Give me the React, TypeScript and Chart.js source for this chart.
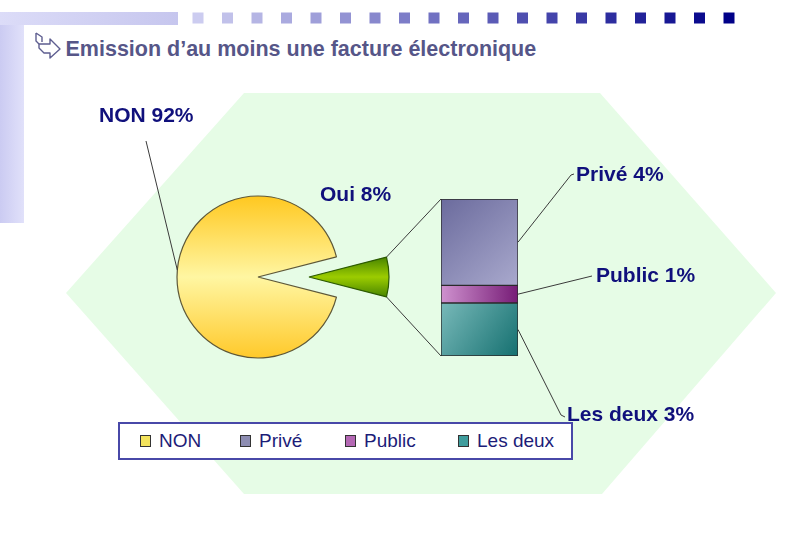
import React, { useEffect, useRef } from "react";
import { Chart, registerables } from "chart.js";

Chart.register(...registerables);

// ---------- data ----------
const pieLabels = ["NON", "Oui"];
const pieValues = [92, 8];
const barLabels = ["Privé", "Public", "Les deux"];
const barValues = [4.4, 0.9, 2.7];
const legendLabels = ["NON", "Privé", "Public", "Les deux"];
const titleText = "Emission d’au moins une facture électronique";

// ---------- style ----------
const W = 800;
const H = 535;
const FONT = "'Liberation Sans', Arial, sans-serif";
const LABEL_COLOR = "#10107c";
const LINE_COLOR = "#3a3a3a";
const legendColors = ["#f3e35c", "#8d8db2", "#b468b4", "#3f9d9d"];
const legendItemX = [20, 120, 225, 338];
const barGradientStops = [
  ["#6b6b9d", "#a9a9cd"],
  ["#cf92cf", "#761c76"],
  ["#78b9b9", "#157070"],
];
const PIE_CENTER = [258, 277];
const PIE_RADIUS = 81;
const SLICE_SHIFT = 51;
const SLICE_RADIUS = 80;
const BAR_BOX = { left: 441, right: 518, top: 199, bottom: 356 };
const pieLabelPos = [
  { from: [146, 141], angle: 185, text: [99, 122] },
  { text: [320, 201] },
];
const barLabelPos = [
  { end: [571, 175], hook: [574, 174], text: [576, 181] },
  { end: [592, 276], hook: null, text: [596, 282] },
  { end: [561, 415], hook: [565, 417], text: [567, 421] },
];

function padFor(cx: number, cy: number) {
  const p = { left: 0, right: 0, top: 0, bottom: 0 };
  if (2 * cx < W) p.right = W - 2 * cx;
  else p.left = 2 * cx - W;
  if (2 * cy < H) p.bottom = H - 2 * cy;
  else p.top = 2 * cy - H;
  return p;
}

export default function App() {
  const pieRef = useRef<HTMLCanvasElement>(null);
  const sliceRef = useRef<HTMLCanvasElement>(null);
  const barRef = useRef<HTMLCanvasElement>(null);

  useEffect(() => {
    const total = pieValues.reduce((a, b) => a + b, 0);
    const ouiIdx = pieLabels.indexOf("Oui");
    const nonIdx = pieLabels.indexOf("NON");
    const rotation = 90 + (pieValues[ouiIdx] / total) * 180;

    const makePie = (
      canvas: HTMLCanvasElement,
      showIdx: number,
      cx: number,
      cy: number,
      radius: number,
      fill: (chart: any) => any,
      border: string
    ) =>
      new Chart(canvas, {
        type: "pie",
        data: {
          labels: pieLabels,
          datasets: [
            {
              data: pieValues,
              backgroundColor: (c: any) =>
                c.dataIndex === showIdx ? fill(c.chart) : "rgba(0,0,0,0)",
              borderColor: (c: any) =>
                c.dataIndex === showIdx ? border : "rgba(0,0,0,0)",
              borderWidth: 1.2,
              radius,
              rotation,
            } as any,
          ],
        },
        options: {
          responsive: false,
          animation: false,
          events: [],
          rotation,
          radius,
          layout: { padding: padFor(cx, cy) },
          plugins: { legend: { display: false }, tooltip: { enabled: false } },
        } as any,
      });

    const pieChart = makePie(
      pieRef.current!,
      nonIdx,
      PIE_CENTER[0],
      PIE_CENTER[1],
      PIE_RADIUS,
      (chart) => {
        const g = chart.ctx.createLinearGradient(
          0,
          PIE_CENTER[1] - PIE_RADIUS,
          0,
          PIE_CENTER[1] + PIE_RADIUS
        );
        g.addColorStop(0, "#ffc820");
        g.addColorStop(0.5, "#fff6a2");
        g.addColorStop(1, "#ffc92a");
        return g;
      },
      "#5e5838"
    );

    const sliceChart = makePie(
      sliceRef.current!,
      ouiIdx,
      PIE_CENTER[0] + SLICE_SHIFT,
      PIE_CENTER[1],
      SLICE_RADIUS,
      (chart) => {
        const g = chart.ctx.createLinearGradient(
          0,
          PIE_CENTER[1] - 22,
          0,
          PIE_CENTER[1] + 22
        );
        g.addColorStop(0, "#3f7d00");
        g.addColorStop(0.5, "#9ccc00");
        g.addColorStop(1, "#3f7d00");
        return g;
      },
      "#2c5a00"
    );

    // bar: bottom of stack = last entry
    const stackOrder = barValues.map((_, i) => i).reverse();

    const barGradient = (c: any, i: number) => {
      const chart = c.chart;
      const area = chart.chartArea;
      const ys = chart.scales && chart.scales.y;
      if (!area || !ys) return barGradientStops[i][0];
      let base = 0;
      for (let j = i + 1; j < barValues.length; j++) base += barValues[j];
      const y0 = ys.getPixelForValue(base + barValues[i]);
      const y1 = ys.getPixelForValue(base);
      const g =
        i === 1
          ? chart.ctx.createLinearGradient(area.left, 0, area.right, 0)
          : chart.ctx.createLinearGradient(area.left, y0, area.right, y1);
      g.addColorStop(0, barGradientStops[i][0]);
      g.addColorStop(1, barGradientStops[i][1]);
      return g;
    };

    const overlay = {
      id: "overlay",
      afterDraw(chart: any) {
        const ctx = chart.ctx;
        ctx.save();
        ctx.strokeStyle = LINE_COLOR;
        ctx.lineWidth = 1;

        const line = (pts: number[][]) => {
          ctx.beginPath();
          ctx.moveTo(pts[0][0], pts[0][1]);
          for (let k = 1; k < pts.length; k++) ctx.lineTo(pts[k][0], pts[k][1]);
          ctx.stroke();
        };

        // connectors from exploded slice to bar
        const arc: any = sliceChart.getDatasetMeta(0).data[ouiIdx];
        const topEl: any = chart.getDatasetMeta(stackOrder.length - 1).data[0];
        const botEl: any = chart.getDatasetMeta(0).data[0];
        const barLeft = topEl.x - topEl.width / 2;
        const barRight = topEl.x + topEl.width / 2;
        line([
          [arc.x + arc.outerRadius * Math.cos(arc.startAngle), arc.y + arc.outerRadius * Math.sin(arc.startAngle)],
          [barLeft, topEl.y],
        ]);
        line([
          [arc.x + arc.outerRadius * Math.cos(arc.endAngle), arc.y + arc.outerRadius * Math.sin(arc.endAngle)],
          [barLeft, botEl.base],
        ]);

        // NON leader
        const nonArc: any = pieChart.getDatasetMeta(0).data[nonIdx];
        const ang = (pieLabelPos[0].angle! * Math.PI) / 180;
        line([
          pieLabelPos[0].from!,
          [nonArc.x + nonArc.outerRadius * Math.cos(ang), nonArc.y + nonArc.outerRadius * Math.sin(ang)],
        ]);

        // bar leaders
        stackOrder.forEach((vi, di) => {
          const el: any = chart.getDatasetMeta(di).data[0];
          const midY = (el.y + el.base) / 2;
          const pos = barLabelPos[vi];
          const pts = [[barRight, midY], pos.end];
          if (pos.hook) pts.push(pos.hook);
          line(pts);
        });

        // labels
        ctx.font = `bold 21px ${FONT}`;
        ctx.fillStyle = LABEL_COLOR;
        ctx.textAlign = "left";
        ctx.textBaseline = "alphabetic";
        const pct = (v: number) => `${Math.round(v)}%`;
        pieLabels.forEach((l, i) => {
          const p = pieLabelPos[i].text;
          ctx.fillText(`${l} ${pct((pieValues[i] / total) * 100)}`, p[0], p[1]);
        });
        barLabels.forEach((l, i) => {
          const p = barLabelPos[i].text;
          ctx.fillText(`${l} ${pct(barValues[i])}`, p[0], p[1]);
        });
        ctx.restore();
      },
    };

    const barChart = new Chart(barRef.current!, {
      type: "bar",
      data: {
        labels: ["Oui"],
        datasets: stackOrder.map((i) => ({
          label: barLabels[i],
          data: [barValues[i]],
          backgroundColor: (c: any) => barGradient(c, i),
          borderColor: "#2a2a2a",
          borderWidth: 1,
          borderSkipped: false,
          barPercentage: 1,
          categoryPercentage: 1,
        })) as any,
      },
      options: {
        responsive: false,
        animation: false,
        events: [],
        layout: {
          padding: {
            left: BAR_BOX.left,
            right: W - BAR_BOX.right,
            top: BAR_BOX.top,
            bottom: H - BAR_BOX.bottom,
          },
        },
        scales: {
          x: { display: false, stacked: true },
          y: { display: false, stacked: true, min: 0, max: pieValues[ouiIdx] },
        },
        plugins: { legend: { display: false }, tooltip: { enabled: false } },
      } as any,
      plugins: [overlay],
    });

    const charts = [pieChart, sliceChart, barChart];
    let alive = true;
    if ((document as any).fonts && (document as any).fonts.load) {
      (document as any).fonts
        .load(`bold 21px 'Liberation Sans'`)
        .then(() => {
          if (alive) barChart.draw();
        })
        .catch(() => {});
    }
    return () => {
      alive = false;
      charts.forEach((c) => c.destroy());
    };
  }, []);

  const squares = Array.from({ length: 19 }, (_, i) => {
    const t = i / 18;
    const r = Math.round(204 * (1 - t));
    const g = Math.round(204 * (1 - t));
    const b = Math.round(240 + (136 - 240) * t);
    return <rect key={i} x={192.5 + i * 29.5} y={12.5} width={11} height={11} fill={`rgb(${r},${g},${b})`} />;
  });

  const canvasStyle: React.CSSProperties = {
    position: "absolute",
    left: 0,
    top: 0,
    width: W,
    height: H,
    pointerEvents: "none",
  };

  return (
    <div
      style={{
        position: "absolute",
        left: 0,
        top: 0,
        width: W,
        height: H,
        background: "#ffffff",
        overflow: "hidden",
        fontFamily: FONT,
      }}
    >
      <svg width={W} height={H} style={{ position: "absolute", left: 0, top: 0 }}>
        <defs>
          <linearGradient id="vstrip" x1="0" x2="1" y1="0" y2="0">
            <stop offset="0" stopColor="#cbcbf2" />
            <stop offset="1" stopColor="#e1e1fa" />
          </linearGradient>
          <linearGradient id="hstrip" x1="0" x2="1" y1="0" y2="0">
            <stop offset="0" stopColor="#dcdcf8" />
            <stop offset="1" stopColor="#c6c6ee" />
          </linearGradient>
        </defs>
        <rect x={0} y={12} width={24} height={211} fill="url(#vstrip)" />
        <rect x={0} y={12} width={178} height={13} fill="url(#hstrip)" />
        {squares}
        <polygon points="66,293 244,93 600,93 776,293 602,494 244,494" fill="#e6fce6" />
        <g fill="none" stroke="#5e5e90" strokeWidth={1.4} strokeLinejoin="round">
          <path d="M36 33 L36 41 L39 44 M36 33 L42 37 L42 42" />
          <path d="M39 44 L50 44 L50 39 L60 49 L50 58 L50 53 L44 53 L39 48 Z" />
        </g>
      </svg>

      <div
        style={{
          position: "absolute",
          left: 65.5,
          top: 38.8,
          fontFamily: FONT,
          fontWeight: "bold",
          fontSize: 21.5,
          lineHeight: "21.5px",
          color: "#565688",
          whiteSpace: "nowrap",
        }}
      >
        {titleText}
      </div>

      <canvas ref={pieRef} width={W} height={H} style={canvasStyle} />
      <canvas ref={sliceRef} width={W} height={H} style={canvasStyle} />
      <canvas ref={barRef} width={W} height={H} style={canvasStyle} />

      <div
        style={{
          position: "absolute",
          left: 118,
          top: 422,
          width: 455,
          height: 38,
          boxSizing: "border-box",
          border: "2px solid #4848a8",
          background: "#ffffff",
          fontFamily: FONT,
          fontSize: 19,
          color: "#1c1c78",
          whiteSpace: "nowrap",
        }}
      >
        {legendLabels.map((l, i) => (
          <div
            key={l}
            style={{
              position: "absolute",
              left: legendItemX[i],
              top: 0,
              height: 34,
              display: "flex",
              alignItems: "center",
            }}
          >
            <span
              style={{
                display: "inline-block",
                width: 11,
                height: 12,
                boxSizing: "border-box",
                border: "1px solid #333",
                background: legendColors[i],
                marginRight: 8,
              }}
            />
            {l}
          </div>
        ))}
      </div>
    </div>
  );
}
